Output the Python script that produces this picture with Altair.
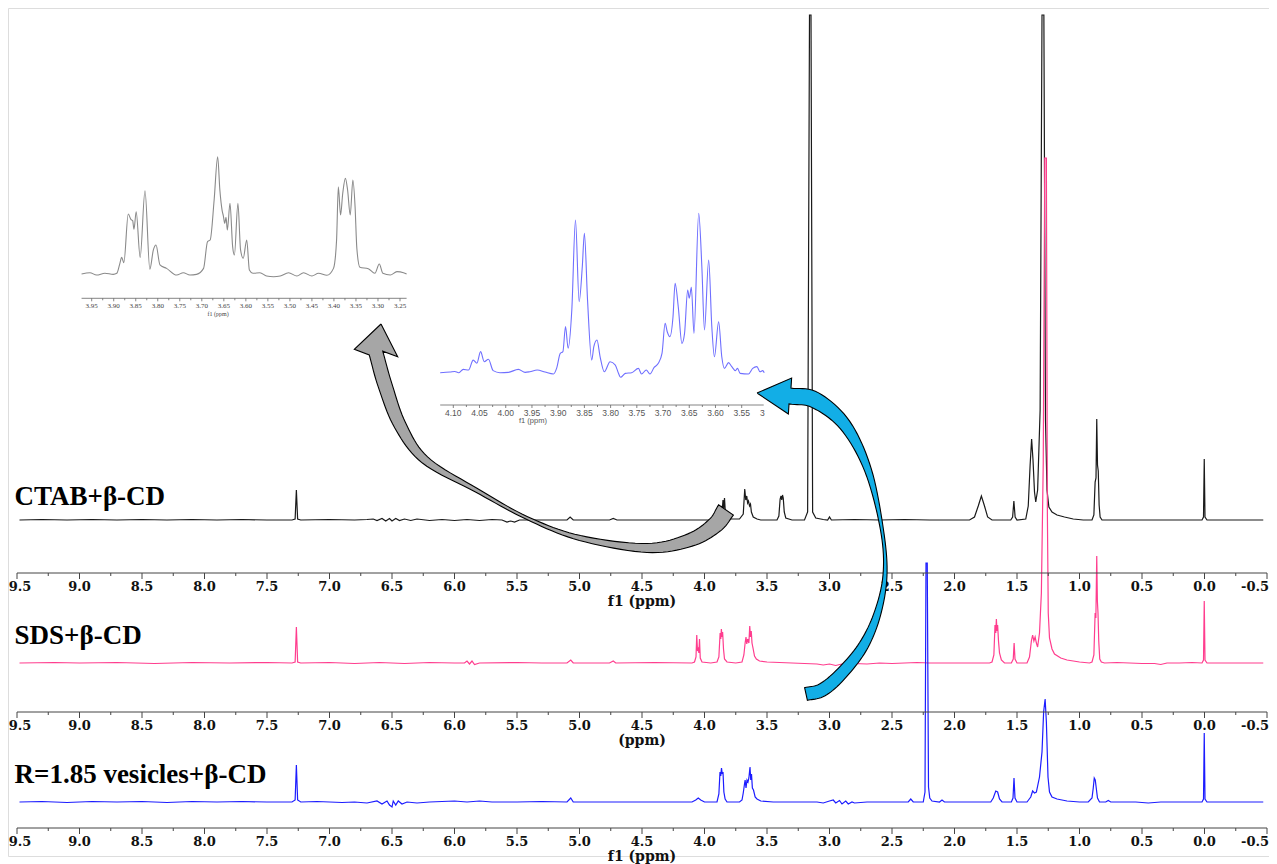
import altair as alt
import pandas as pd
import numpy as np

# ---------------- data ----------------
# main spectra: (chemical shift ppm, intensity in arbitrary units)
CTAB = [(9.48,0),(9.3,0.5),(9.1,0),(8.9,0.5),(8.7,0),(8.5,0.5),(8.3,0),(8.1,0.5),(7.9,0),(7.7,0.5),(7.5,0),
        (7.30,0),(7.275,1),(7.265,30),(7.255,1),(7.23,0),(7.0,0.5),(6.8,0),(6.70,0.5),(6.65,1),(6.62,-0.5),
        (6.58,1.5),(6.55,-1),(6.52,1.5),(6.50,-1),(6.47,1.5),(6.44,-0.5),(6.40,1),(6.35,-0.5),(6.30,1),
        (6.20,-0.5),(6.10,0.5),(6.00,-0.5),(5.90,0.5),(5.80,-0.5),(5.70,0.5),(5.62,0),(5.58,-2),(5.55,-1),
        (5.52,-2),(5.48,0),(5.30,0),(5.10,0),(5.075,3),(5.05,0),(4.76,0),(4.73,1.5),(4.70,0),(4.30,0),
        (4.00,0),(3.90,0),(3.875,5),(3.865,14),(3.858,10),(3.852,20),(3.846,12),(3.84,22),(3.832,5),
        (3.81,1),(3.72,1),(3.69,6),(3.678,31),(3.67,20),(3.662,24),(3.655,17),(3.648,19),(3.64,14),
        (3.632,16),(3.625,8),(3.61,3),(3.58,1),(3.55,0),(3.42,0),(3.405,4),(3.395,21),(3.388,24),
        (3.382,20),(3.376,25),(3.37,22),(3.362,8),(3.35,2),(3.30,0),(3.20,0),(3.175,8),(3.16,505),
        (3.148,505),(3.135,8),(3.11,2),(3.05,0.5),(3.015,0),(3.00,3),(2.985,0),(2.8,0.5),(2.6,0),
        (2.4,0.5),(2.2,0),(2.0,0),(1.88,0),(1.84,3),(1.81,14),(1.785,24),(1.76,14),(1.735,3),(1.70,0),
        (1.55,0),(1.535,3),(1.525,19),(1.515,3),(1.50,0),(1.43,1),(1.41,14),(1.395,55),(1.383,81),
        (1.372,60),(1.36,28),(1.35,18),(1.335,30),(1.315,110),(1.30,505),(1.285,505),(1.272,100),
        (1.26,30),(1.245,13),(1.22,8),(1.18,5),(1.12,3),(1.05,1),(0.97,0),(0.90,0),(0.885,5),
        (0.875,38),(0.868,42),(0.862,101),(0.856,55),(0.85,49),(0.843,15),(0.835,3),(0.82,0),(0.5,0),
        (0.2,0),(0.02,0),(0.008,3),(0.002,61),(-0.004,3),(-0.02,0),(-0.3,0),(-0.47,0)]

SDS = [(9.48,0),(9.2,0.5),(9.0,0),(8.7,0.5),(8.4,-0.5),(8.1,0.5),(7.8,0),(7.5,0.5),(7.30,0),(7.275,1),
       (7.265,36),(7.255,1),(7.23,0),(7.0,0.5),(6.8,-0.5),(6.6,0.5),(6.4,-0.5),(6.2,0.5),(6.0,0),(5.92,0),
       (5.90,2),(5.88,-1),(5.86,2),(5.84,-1.5),(5.80,0),(5.5,0.5),(5.3,0),(5.10,0),(5.07,3),(5.05,0),
       (4.76,0),(4.73,2),(4.71,0),(4.4,0.5),(4.10,0),(4.08,1),(4.068,6),(4.062,28),(4.056,12),(4.05,14),
       (4.045,10),(4.04,24),(4.034,5),(4.02,1),(3.95,0),(3.90,1),(3.885,6),(3.875,30),(3.87,24),
       (3.865,34),(3.86,26),(3.855,31),(3.848,14),(3.84,4),(3.82,1),(3.75,0),(3.70,1),(3.685,8),
       (3.675,20),(3.668,26),(3.662,19),(3.655,24),(3.645,20),(3.638,37),(3.632,26),(3.626,32),
       (3.62,20),(3.612,15),(3.60,7),(3.585,4),(3.56,2),(3.50,1),(3.40,0.5),(3.3,0),(3.2,-0.5),
       (3.10,-1),(3.05,-2),(3.0,-1),(2.95,-2.5),(2.9,-1),(2.85,-2),(2.8,-0.5),(2.7,-1),(2.6,0),
       (2.5,-0.5),(2.4,0),(2.3,0.5),(2.2,0),(2.0,0),(1.80,0),(1.72,0),(1.70,1),(1.685,8),(1.676,38),
       (1.67,30),(1.665,44),(1.66,32),(1.655,38),(1.648,22),(1.64,10),(1.625,3),(1.60,0),(1.545,0),
       (1.53,4),(1.523,20),(1.516,4),(1.50,0),(1.42,0),(1.40,6),(1.385,22),(1.375,28),(1.365,22),
       (1.355,26),(1.345,20),(1.335,16),(1.32,30),(1.305,70),(1.29,200),(1.278,505),(1.265,505),
       (1.257,150),(1.25,50),(1.24,25),(1.22,14),(1.20,9),(1.15,5),(1.10,3),(1.05,2),(1.00,1),
       (0.92,0),(0.90,1),(0.885,8),(0.875,50),(0.869,45),(0.862,107),(0.857,62),(0.852,50),(0.846,22),
       (0.838,4),(0.825,1),(0.80,0),(0.7,0.5),(0.6,0),(0.5,-0.5),(0.4,-0.5),(0.35,-1.5),(0.3,0),
       (0.2,0),(0.1,0.5),(0.02,0),(0.008,3),(0.002,62),(-0.004,3),(-0.02,0),(-0.2,0),(-0.47,0)]

VESICLES = [(9.48,0),(9.3,0.5),(9.1,-0.5),(8.9,0.5),(8.7,0),(8.5,0.5),(8.3,-0.5),(8.1,0.5),(7.9,0),
            (7.7,0.5),(7.5,0),(7.30,0),(7.275,2),(7.265,37),(7.255,2),(7.23,0),(7.1,0.5),(6.9,-0.5),
            (6.8,0),(6.7,-1),(6.62,1),(6.58,-2),(6.54,1),(6.52,-3),(6.50,-5),(6.49,1),(6.47,-3),
            (6.45,1),(6.42,-2),(6.38,0),(6.3,-1),(6.2,0),(6.1,0.5),(6.0,1),(5.9,0),(5.8,1),(5.7,0),
            (5.5,0),(5.3,0.5),(5.10,0),(5.07,4),(5.05,0),(4.8,0),(4.5,0),(4.3,0),(4.10,0),(4.07,2),
            (4.05,4),(4.03,2),(4.00,0),(3.90,0),(3.885,8),(3.876,30),(3.87,26),(3.864,34),(3.858,28),
            (3.852,30),(3.845,10),(3.835,3),(3.82,0),(3.72,0),(3.70,2),(3.69,9),(3.68,18),(3.675,22),
            (3.668,14),(3.66,22),(3.652,20),(3.645,24),(3.636,35),(3.63,22),(3.624,28),(3.617,14),
            (3.608,12),(3.595,5),(3.58,3),(3.55,1),(3.45,0),(3.3,0),(3.1,0),(3.05,-1),(3.0,1),
            (2.97,2),(2.95,-1),(2.92,1.5),(2.9,-2),(2.87,1),(2.85,-2),(2.82,0),(2.8,-1),(2.7,0),
            (2.5,0),(2.37,0),(2.35,3),(2.33,0),(2.25,0),(2.236,10),(2.228,239),(2.218,239),(2.208,15),
            (2.198,4),(2.18,1),(2.12,0),(2.10,2),(2.08,0),(1.80,0),(1.71,0),(1.69,4),(1.67,11),
            (1.655,10),(1.64,3),(1.62,0),(1.545,0),(1.532,4),(1.524,24),(1.516,4),(1.50,0),(1.42,0),
            (1.39,5),(1.375,11),(1.36,9),(1.345,10),(1.32,25),(1.30,50),(1.287,90),(1.275,103),
            (1.265,80),(1.252,25),(1.24,10),(1.22,5),(1.18,3),(1.10,1),(1.00,0),(0.93,0),(0.90,4),
            (0.89,14),(0.882,24),(0.874,22),(0.866,14),(0.856,4),(0.84,0),(0.79,0),(0.77,1.5),
            (0.75,0),(0.55,0),(0.45,-1),(0.35,0),(0.02,0),(0.008,3),(0.002,69),(-0.004,3),(-0.02,0),
            (-0.3,0),(-0.47,0)]

# insets: (ppm, relative intensity, tallest line = 100)
GRAY_INSET = [(3.973,0),(3.954,1.1),(3.939,-0.9),(3.920,0.6),(3.901,-0.3),(3.893,0.6),(3.886,9.1),
              (3.882,14.2),(3.877,9.7),(3.867,51.1),(3.861,46.6),(3.857,45.5),(3.854,38.1),(3.849,53.1),
              (3.840,14.2),(3.829,71.0),(3.818,4.0),(3.810,20.5),(3.804,24.7),(3.795,7.7),(3.780,4.8),
              (3.757,-0.9),(3.742,1.1),(3.727,-0.9),(3.712,-0.3),(3.696,4.8),(3.687,27.6),(3.681,29.0),
              (3.672,63.1),(3.664,100),(3.659,71.6),(3.654,54.5),(3.651,49.4),(3.648,43.2),(3.645,48.3),
              (3.642,37.5),(3.636,60.2),(3.630,23.3),(3.626,16.2),(3.618,60.2),(3.612,20.5),(3.606,13.4),
              (3.598,29.0),(3.592,3.4),(3.584,0.6),(3.568,1.1),(3.553,-1.7),(3.537,-2.3),(3.522,-1.7),
              (3.503,1.1),(3.484,-1.7),(3.469,1.1),(3.450,-1.7),(3.435,0.6),(3.416,-1.1),(3.401,4.8),
              (3.394,29.0),(3.390,74.4),(3.385,50.3),(3.380,68.8),(3.374,81.5),(3.369,71.6),(3.363,50.3),
              (3.357,80.1),(3.352,57.4),(3.348,21.9),(3.341,5.7),(3.322,4.5),(3.307,0.6),(3.297,8.5),
              (3.289,0.6),(3.272,-0.9),(3.257,2.0),(3.242,1.1),(3.235,0)]

BLUE_INSET = [(4.125,0),(4.106,0.4),(4.097,0.8),(4.090,0),(4.081,2.1),(4.071,1.7),(4.062,7.9),
              (4.055,5.9),(4.048,13.2),(4.041,6.9),(4.033,8.4),(4.024,1.3),(4.011,0),(3.995,0.2),
              (3.976,2.1),(3.963,0.2),(3.954,0.6),(3.940,1.7),(3.925,0.4),(3.909,-0.8),(3.903,2.7),
              (3.896,12.1),(3.891,13.2),(3.886,28.9),(3.881,15.3),(3.874,39.3),(3.867,95.8),(3.860,44.6),
              (3.854,66.5),(3.850,87.4),(3.844,45.6),(3.836,7.9),(3.832,16.3),(3.826,20.5),(3.820,10.0),
              (3.812,0.6),(3.801,6.9),(3.791,4.8),(3.785,-0.4),(3.781,-2.9),(3.772,-0.4),(3.760,0),
              (3.747,2.7),(3.741,-0.8),(3.732,1.7),(3.725,-0.8),(3.717,3.3),(3.709,5.9),(3.702,12.1),
              (3.696,31.0),(3.692,25.7),(3.687,22.6),(3.681,35.1),(3.677,56.1),(3.671,41.4),(3.664,18.4),
              (3.659,24.7),(3.653,51.9),(3.650,46.7),(3.646,53.6),(3.641,24.7),(3.632,100),(3.626,66.5),
              (3.621,26.8),(3.613,70.7),(3.607,28.9),(3.602,10.0),(3.594,32.0),(3.588,10.0),(3.583,2.7),
              (3.575,6.3),(3.569,3.8),(3.562,1.3),(3.558,2.7),(3.553,-0.4),(3.537,-0.8),(3.529,2.7),
              (3.521,3.8),(3.515,0.6),(3.510,1.3),(3.507,0)]

MAIN_TICKS = [9.5, 9.0, 8.5, 8.0, 7.5, 7.0, 6.5, 6.0, 5.5, 5.0, 4.5, 4.0, 3.5, 3.0, 2.5, 2.0, 1.5, 1.0, 0.5, 0.0, -0.5]
MAIN_TICK_LABELS = ["9.5", "9.0", "8.5", "8.0", "7.5", "7.0", "6.5", "6.0", "5.5", "5.0", "4.5",
                    "4.0", "3.5", "3.0", "2.5", "2.0", "1.5", "1.0", "0.5", "0.0", "-0.5"]
GRAY_INSET_TICKS = [3.95, 3.90, 3.85, 3.80, 3.75, 3.70, 3.65, 3.60, 3.55, 3.50, 3.45, 3.40, 3.35, 3.30, 3.25]
GRAY_INSET_LABELS = ["3.95", "3.90", "3.85", "3.80", "3.75", "3.70", "3.65", "3.60", "3.55", "3.50",
                     "3.45", "3.40", "3.35", "3.30", "3.25"]
BLUE_INSET_TICKS = [4.10, 4.05, 4.00, 3.95, 3.90, 3.85, 3.80, 3.75, 3.70, 3.65, 3.60, 3.55]
BLUE_INSET_LABELS = ["4.10", "4.05", "4.00", "3.95", "3.90", "3.85", "3.80", "3.75", "3.70", "3.65",
                     "3.60", "3.55"]

SPECTRUM_NAMES = ["CTAB+β-CD", "SDS+β-CD", "R=1.85 vesicles+β-CD"]
AXIS_TITLES = ["f1 (ppm)", "(ppm)", "f1 (ppm)"]

# ---------------- layout (stacking levels of the main panel) ----------------
BASE_LEVEL = [336, 193, 54]      # baseline of each trace
AXIS_LEVEL = [283, 144, 28]      # axis line under each trace
COLORS = ["#1a1a1a", "#ff3d8e", "#1c1cff"]

SERIF = "Liberation Serif"
LABEL_FONT = "DejaVu Serif"


def main_x():
    return alt.Scale(domain=[9.5, -0.5], range=[9, 1259], nice=False, zero=False)


def main_y():
    return alt.Scale(domain=[0, 848], range=[848, 0], nice=False, zero=False)


def X(field="ppm"):
    return alt.X(f"{field}:Q", scale=main_x(), axis=None)


def Y(field="level"):
    return alt.Y(f"{field}:Q", scale=main_y(), axis=None)


layers = []

# main traces
for data, base, col in zip([CTAB, SDS, VESICLES], BASE_LEVEL, COLORS):
    df = pd.DataFrame(data, columns=["ppm", "intensity"])
    df["level"] = df["intensity"] + base
    layers.append(alt.Chart(df).mark_line(color=col, strokeWidth=1.2).encode(x=X(), y=Y()))

# main axes
axis_df = pd.DataFrame({"ppm": [9.5] * 3, "ppm2": [-0.5] * 3, "level": AXIS_LEVEL})
layers.append(alt.Chart(axis_df).mark_rule(color="#444", strokeWidth=1).encode(
    x=X(), x2=alt.X2("ppm2"), y=Y()))

tick_rows = []
for lv in AXIS_LEVEL:
    for t in MAIN_TICKS:
        tick_rows.append({"ppm": t, "level": lv, "level2": lv - 6})
    for t in MAIN_TICKS[:-1]:
        tick_rows.append({"ppm": t - 0.25, "level": lv, "level2": lv - 3})
layers.append(alt.Chart(pd.DataFrame(tick_rows)).mark_rule(color="#444", strokeWidth=1).encode(
    x=X(), y=Y(), y2=alt.Y2("level2")))

lab_rows, first_rows, last_rows = [], [], []
for lv in AXIS_LEVEL:
    for t, s in zip(MAIN_TICKS, MAIN_TICK_LABELS):
        row = {"ppm": t, "level": lv - 14, "text": s}
        if t == MAIN_TICKS[0]:
            first_rows.append(row)
        elif t == MAIN_TICKS[-1]:
            last_rows.append(row)
        else:
            lab_rows.append(row)
label_style = dict(font=LABEL_FONT, fontSize=13, fontWeight="bold", color="#111", baseline="middle")
layers.append(alt.Chart(pd.DataFrame(lab_rows)).mark_text(align="center", **label_style).encode(
    x=X(), y=Y(), text="text:N"))
# end labels kept inside the page edge
layers.append(alt.Chart(pd.DataFrame(first_rows)).mark_text(align="center", dx=3, **label_style).encode(
    x=X(), y=Y(), text="text:N"))
layers.append(alt.Chart(pd.DataFrame(last_rows)).mark_text(align="right", dx=2, **label_style).encode(
    x=X(), y=Y(), text="text:N"))

title_df = pd.DataFrame({"ppm": [4.5] * 3, "level": [lv - 29 for lv in AXIS_LEVEL], "text": AXIS_TITLES})
layers.append(alt.Chart(title_df).mark_text(
    font=LABEL_FONT, fontSize=14, fontWeight="bold", color="#111", baseline="middle", align="center"
).encode(x=X(), y=Y(), text="text:N"))

name_df = pd.DataFrame({"ppm": [9.52] * 3, "level": [359, 220, 81], "text": SPECTRUM_NAMES})
layers.append(alt.Chart(name_df).mark_text(
    font=SERIF, fontSize=27, fontWeight="bold", color="#000", baseline="middle", align="left"
).encode(x=X(), y=Y(), text="text:N"))


# ---------------- insets ----------------
def inset_layers(data, dom, rng, yrng, color, ax_y, ax_from, ax_to, ticks, labels, font, fsize,
                 title_ppm, title_y, tcolor):
    sx = lambda: alt.Scale(domain=dom, range=rng, nice=False, zero=False)
    sy = alt.Scale(domain=[0, 100], range=yrng, nice=False, zero=False)
    df = pd.DataFrame(data, columns=["ppm", "intensity"])
    out = [alt.Chart(df).mark_line(color=color, strokeWidth=1.1, interpolate="monotone").encode(
        x=alt.X("ppm:Q", scale=sx(), axis=None), y=alt.Y("intensity:Q", scale=sy, axis=None))]
    out.append(alt.Chart(pd.DataFrame({"a": [ax_from], "b": [ax_to]})).mark_rule(
        color="#666", strokeWidth=0.8).encode(
        x=alt.X("a:Q", scale=sx(), axis=None), x2="b", y=alt.value(ax_y)))
    trows = [{"ppm": t, "len": 3} for t in ticks] + [{"ppm": t - 0.025, "len": 2} for t in ticks[:-1]]
    tdf = pd.DataFrame(trows)
    out.append(alt.Chart(tdf[tdf.len == 3]).mark_rule(color="#666", strokeWidth=0.8).encode(
        x=alt.X("ppm:Q", scale=sx(), axis=None), y=alt.value(ax_y), y2=alt.value(ax_y + 3)))
    out.append(alt.Chart(tdf[tdf.len == 2]).mark_rule(color="#666", strokeWidth=0.8).encode(
        x=alt.X("ppm:Q", scale=sx(), axis=None), y=alt.value(ax_y), y2=alt.value(ax_y + 2)))
    ldf = pd.DataFrame({"ppm": ticks, "text": labels})
    out.append(alt.Chart(ldf).mark_text(font=font, fontSize=fsize, color=tcolor, baseline="middle").encode(
        x=alt.X("ppm:Q", scale=sx(), axis=None), y=alt.value(ax_y + 8), text="text:N"))
    out.append(alt.Chart(pd.DataFrame({"ppm": [title_ppm], "text": ["f1 (ppm)"]})).mark_text(
        font=font, fontSize=fsize - 1, color=tcolor, baseline="middle").encode(
        x=alt.X("ppm:Q", scale=sx(), axis=None), y=alt.value(title_y), text="text:N"))
    return out


layers += inset_layers(GRAY_INSET, [3.95, 3.25], [83.7, 392], [266, 148.7], "#8a8a8a", 290.3,
                       3.973, 3.235, GRAY_INSET_TICKS, GRAY_INSET_LABELS, SERIF, 7, 3.663, 305.5, "#444")
layers += inset_layers(BLUE_INSET, [4.10, 3.55], [445.3, 733.7], [364.7, 205.3], "#6f6fff", 397,
                       4.125, 3.508, BLUE_INSET_TICKS, BLUE_INSET_LABELS, "Liberation Sans", 8.5, 3.948,
                       413, "#555")
# truncated last label of the blue inset
layers.append(alt.Chart(pd.DataFrame({"ppm": [3.50], "text": ["3"]})).mark_text(
    font="Liberation Sans", fontSize=8.5, color="#555", baseline="middle", align="left", dx=-7.8).encode(
    x=alt.X("ppm:Q", scale=alt.Scale(domain=[4.10, 3.55], range=[445.3, 733.7], nice=False, zero=False),
            axis=None), y=alt.value(405), text="text:N"))

# ---------------- curved arrows (annotation shapes in main panel units) ----------------
# centre line from head base to tail: (ppm, level, band width in px)
GRAY_ARROW = [(6.628, 503, 14), (6.556, 471, 14), (6.436, 431, 12), (6.236, 396, 8), (5.828, 366, 4),
              (5.42, 338, 3), (4.996, 318, 5), (4.46, 308, 9), (4.116, 316, 13), (3.916, 331, 16),
              (3.828, 346, 18)]
GRAY_TIP = (6.588, 532)
BLUE_ARROW = [(3.316, 460, 16), (3.116, 456, 16), (2.876, 431, 12), (2.692, 386, 7), (2.58, 326, 3),
              (2.556, 281, 4), (2.62, 241, 7), (2.74, 208, 10), (2.916, 181, 12), (3.06, 166, 13),
              (3.188, 162, 13)]
BLUE_TIP = (3.58, 463)


def to_px(ppm, level):
    return np.array([9 + (9.5 - ppm) * 125.0, 848 - level])


def to_data(p):
    return 9.5 - (p[0] - 9) / 125.0, 848 - p[1]


def smooth(arr, n=10):
    """Catmull-Rom densification of the annotation outline."""
    arr = np.asarray(arr, float)
    ext = np.vstack([2 * arr[0] - arr[1], arr, 2 * arr[-1] - arr[-2]])
    out = []
    for i in range(1, len(ext) - 2):
        p0, p1, p2, p3 = ext[i - 1], ext[i], ext[i + 1], ext[i + 2]
        for t in np.linspace(0, 1, n, endpoint=False):
            t2, t3 = t * t, t * t * t
            out.append(0.5 * ((2 * p1) + (-p0 + p2) * t + (2 * p0 - 5 * p1 + 4 * p2 - p3) * t2
                              + (-p0 + 3 * p1 - 3 * p2 + p3) * t3))
    out.append(arr[-1])
    return np.array(out)


def arrow_polygon(center, tip, head_half):
    raw = np.array([[*to_px(p, l), w] for p, l, w in center])
    dense = smooth(raw)
    pts, w = dense[:, :2], dense[:, 2]
    tang = np.zeros_like(pts)
    tang[0] = pts[1] - pts[0]
    tang[-1] = pts[-1] - pts[-2]
    tang[1:-1] = pts[2:] - pts[:-2]
    tang /= np.linalg.norm(tang, axis=1)[:, None]
    nrm = np.stack([-tang[:, 1], tang[:, 0]], axis=1)
    left = pts + nrm * w[:, None] / 2
    right = pts - nrm * w[:, None] / 2
    tp = to_px(*tip)
    th = pts[0] - tp
    th /= np.linalg.norm(th)
    nh = np.array([-th[1], th[0]])
    wl = pts[0] + nh * head_half
    wr = pts[0] - nh * head_half
    poly = [tp, wl] + list(left) + list(right[::-1]) + [wr, tp]
    rows = [dict(zip(["ppm", "level"], to_data(p)), order=i) for i, p in enumerate(poly)]
    return pd.DataFrame(rows)


for center, tip, hh, fill in [(GRAY_ARROW, GRAY_TIP, 22, "#a6a6a6"), (BLUE_ARROW, BLUE_TIP, 18, "#12aee6")]:
    layers.append(alt.Chart(arrow_polygon(center, tip, hh)).mark_line(
        fill=fill, stroke="#000", strokeWidth=1.1, strokeJoin="miter").encode(
        x=X(), y=Y(), order=alt.Order("order:Q")))

chart = alt.layer(*layers).resolve_scale(x="independent", y="independent").properties(
    width=1261, height=848, autosize=alt.AutoSizeParams(type="none"),
    padding={"left": 0, "top": 0, "right": 0, "bottom": 8}
).configure_view(strokeWidth=0, stroke="transparent").configure(background="white")

chart.save("out.html", embed_options={"renderer": "svg", "actions": False})
